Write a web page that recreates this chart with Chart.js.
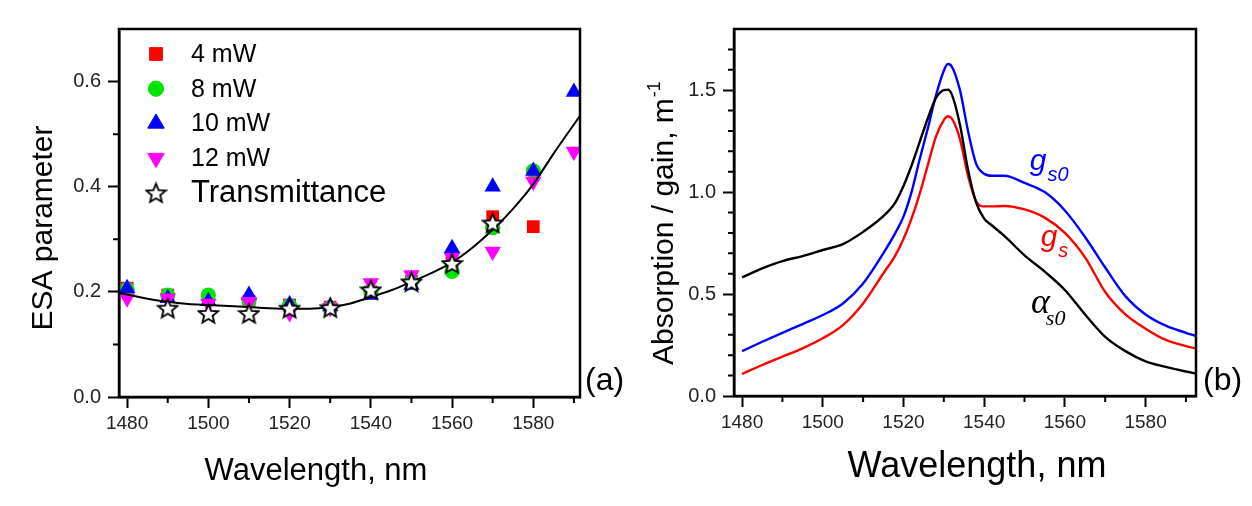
<!DOCTYPE html>
<html>
<head>
<meta charset="utf-8">
<script src="https://cdn.jsdelivr.net/npm/chart.js@4.4.1/dist/chart.umd.min.js"></script>
<style>
  body { margin: 0; background: #fff; width: 1252px; height: 506px; overflow: hidden; position: relative; }
  canvas { position: absolute; top: 0; }
  #esaChart { left: 0; }
  #absChart { left: 626px; }
</style>
</head>
<body>
<canvas id="esaChart" width="626" height="506"></canvas>
<canvas id="absChart" width="626" height="506"></canvas>
<script>
// ---- Panel (a): ESA parameter ----
const wavelengthsA = [1480, 1490, 1500, 1510, 1520, 1530, 1540, 1550, 1560, 1570, 1580, 1590];
const esa4mW  = [0.207, 0.194, 0.188, 0.182, 0.175, 0.171, 0.200, 0.220, 0.255, 0.343, 0.324, null];
const esa8mW  = [0.205, 0.194, 0.194, 0.183, 0.174, 0.170, 0.200, 0.220, 0.239, 0.322, 0.430, null];
const esa10mW = [0.207, 0.188, 0.182, 0.194, 0.176, 0.172, 0.194, 0.213, 0.283, 0.400, 0.430, 0.580];
const esa12mW = [0.188, 0.188, 0.178, 0.181, 0.160, 0.170, 0.217, 0.232, 0.265, 0.277, 0.410, 0.467];
const transmittance = [null, 0.169, 0.159, 0.159, 0.169, 0.170, 0.204, 0.219, 0.254, 0.331, null, null];

const fitWavelengths = [1478, 1480, 1485, 1490, 1495, 1500, 1505, 1510, 1515, 1520, 1525, 1530, 1535, 1540, 1545, 1550, 1555, 1560, 1565, 1570, 1575, 1580, 1585, 1591.5];
const fitValues      = [0.198, 0.195, 0.187, 0.181, 0.177, 0.175, 0.173, 0.171, 0.169, 0.168, 0.168, 0.171, 0.178, 0.190, 0.203, 0.219, 0.236, 0.256, 0.284, 0.318, 0.358, 0.405, 0.463, 0.535];

const xMajorTicks = [1480, 1500, 1520, 1540, 1560, 1580];
const xMinorTicks = [1490, 1510, 1530, 1550, 1570, 1590];
const yMajorTicksA = [0, 0.2, 0.4, 0.6];
const yMinorTicksA = [0.1, 0.3, 0.5];

// ---- Panel (b): absorption / gain spectra ----
const wavelengthsB = [1480, 1485, 1490, 1495, 1500, 1505, 1510, 1515, 1518, 1520, 1522, 1524, 1526, 1528, 1530, 1531, 1532, 1534, 1536, 1538, 1540, 1542, 1545, 1550, 1555, 1560, 1565, 1570, 1575, 1580, 1585, 1590, 1592.5];
const alphaS0 = [0.582, 0.626, 0.662, 0.686, 0.716, 0.745, 0.805, 0.882, 0.950, 1.030, 1.130, 1.245, 1.360, 1.460, 1.500, 1.502, 1.478, 1.330, 1.110, 0.950, 0.870, 0.835, 0.785, 0.690, 0.610, 0.520, 0.400, 0.290, 0.220, 0.170, 0.143, 0.120, 0.110];
const gS0     = [0.220, 0.266, 0.310, 0.353, 0.397, 0.454, 0.552, 0.700, 0.800, 0.880, 1.000, 1.160, 1.310, 1.470, 1.595, 1.628, 1.615, 1.500, 1.300, 1.140, 1.090, 1.080, 1.080, 1.045, 1.000, 0.910, 0.780, 0.630, 0.490, 0.400, 0.345, 0.310, 0.294];
const gS      = [0.108, 0.152, 0.193, 0.234, 0.283, 0.348, 0.454, 0.601, 0.690, 0.770, 0.870, 0.990, 1.130, 1.270, 1.353, 1.372, 1.360, 1.260, 1.080, 0.955, 0.930, 0.930, 0.932, 0.915, 0.875, 0.800, 0.680, 0.510, 0.400, 0.330, 0.275, 0.245, 0.234];

const yMajorTicksB = [0, 0.5, 1.0, 1.5];
const yMinorTicksB = [0.1, 0.2, 0.3, 0.4, 0.6, 0.7, 0.8, 0.9, 1.1, 1.2, 1.3, 1.4, 1.6, 1.7];

const SANS = '"Liberation Sans", Arial, sans-serif';
const SERIF = '"Liberation Serif", "Times New Roman", serif';
Chart.defaults.font.family = SANS;
Chart.defaults.color = '#000';

// pair x and y arrays into points, skipping missing values
function toPoints(xs, ys) {
  return xs.map((x, i) => ({ x: x, y: ys[i] })).filter(p => p.y !== null);
}

// open five-pointed star marker
function makeStar(size) {
  const c = document.createElement('canvas');
  c.width = size; c.height = size;
  const g = c.getContext('2d');
  const R = size / 2 - 1.5, r = R * 0.45, cx = size / 2, cy = size / 2 + 1;
  g.beginPath();
  for (let i = 0; i < 10; i++) {
    const ang = -Math.PI / 2 + i * Math.PI / 5;
    const rad = i % 2 ? r : R;
    g.lineTo(cx + rad * Math.cos(ang), cy + rad * Math.sin(ang));
  }
  g.closePath();
  g.fillStyle = '#fff';
  g.fill();
  g.lineWidth = 1.9;
  g.lineJoin = 'miter';
  g.strokeStyle = '#000';
  g.stroke();
  return c;
}
const starMarker = makeStar(23);

// Frame around plot area + short minor ticks
const framePlugin = {
  id: 'frame',
  afterDraw(chart, args, opts) {
    const { ctx, chartArea: a, scales } = chart;
    ctx.save();
    ctx.strokeStyle = '#000';
    ctx.lineWidth = 2;
    ctx.beginPath();
    (opts.xMinor || []).forEach(v => {
      const px = scales.x.getPixelForValue(v);
      ctx.moveTo(px, a.bottom);
      ctx.lineTo(px, a.bottom + 6);
    });
    (opts.yMinor || []).forEach(v => {
      const py = scales.y.getPixelForValue(v);
      ctx.moveTo(a.left, py);
      ctx.lineTo(a.left - 6, py);
    });
    ctx.stroke();
    ctx.lineWidth = 2.5;
    ctx.strokeRect(a.left, a.top, a.right - a.left, a.bottom - a.top);
    ctx.restore();
  }
};

// Free text: axis titles, panel letters, curve names
const textPlugin = {
  id: 'texts',
  afterDraw(chart, args, opts) {
    const ctx = chart.ctx;
    (opts.items || []).forEach(it => {
      let x = it.x, y = it.y;
      if (it.data) {
        x = chart.scales.x.getPixelForValue(it.x);
        y = chart.scales.y.getPixelForValue(it.y);
      }
      ctx.save();
      ctx.translate(x, y);
      if (it.rotate) ctx.rotate(it.rotate);
      ctx.font = it.font;
      ctx.fillStyle = it.color || '#000';
      ctx.textAlign = it.align || 'left';
      ctx.textBaseline = 'alphabetic';
      ctx.fillText(it.text, 0, 0);
      if (it.sub) {
        const w = ctx.measureText(it.text).width;
        ctx.font = it.subFont;
        ctx.textAlign = 'left';
        ctx.fillText(it.sub, w + (it.subDx || 0), it.subDy || 0);
      }
      ctx.restore();
    });
  }
};

// Legend inside panel (a)
const legendPlugin = {
  id: 'insideLegend',
  afterDraw(chart, args, opts) {
    const ctx = chart.ctx;
    let y = opts.top;
    chart.data.datasets.forEach(ds => {
      if (!ds.label) return;
      ctx.save();
      ctx.fillStyle = ds.backgroundColor;
      ctx.strokeStyle = ds.borderColor;
      ctx.lineWidth = 1;
      Chart.helpers.drawPoint(ctx, {
        pointStyle: ds.pointStyle,
        rotation: ds.pointRotation || 0,
        radius: ds.pointRadius,
        borderWidth: 1
      }, opts.markerX, y);
      ctx.fillStyle = '#000';
      ctx.font = (ds.legendFontSize || 25) + 'px ' + SANS;
      ctx.textAlign = 'left';
      ctx.textBaseline = 'middle';
      ctx.fillText(ds.label, opts.textX, y + 1);
      ctx.restore();
      y += opts.step;
    });
  }
};

function xScale(min, max, fontSize, height) {
  return {
    type: 'linear', min: min, max: max,
    afterBuildTicks: s => { s.ticks = xMajorTicks.map(v => ({ value: v })); },
    afterFit: s => { s.height = height; },
    grid: { drawOnChartArea: false, drawTicks: true, tickLength: 11, tickWidth: 2, tickColor: '#000' },
    border: { display: true, width: 2.5, color: '#000' },
    ticks: { color: '#222', padding: 4, maxRotation: 0, autoSkip: false,
             font: { size: fontSize }, callback: v => String(v) }
  };
}

function yScale(min, max, majors, width, decimals) {
  return {
    type: 'linear', min: min, max: max,
    afterBuildTicks: s => { s.ticks = majors.map(v => ({ value: v })); },
    afterFit: s => { s.width = width; },
    grid: { drawOnChartArea: false, drawTicks: true, tickLength: 11, tickWidth: 2, tickColor: '#000' },
    border: { display: true, width: 2.5, color: '#000' },
    ticks: { color: '#222', padding: 7, font: { size: 20 }, callback: v => v.toFixed(decimals) }
  };
}

// ---- Chart (a) ----
new Chart(document.getElementById('esaChart'), {
  type: 'scatter',
  data: {
    datasets: [
      { label: '4 mW', data: toPoints(wavelengthsA, esa4mW), pointStyle: 'rect', pointRadius: 9,
        backgroundColor: '#ff0000', borderColor: '#ff0000', borderWidth: 0, order: 5 },
      { label: '8 mW', data: toPoints(wavelengthsA, esa8mW), pointStyle: 'circle', pointRadius: 7.6,
        backgroundColor: '#00e600', borderColor: '#00e600', borderWidth: 0, order: 4 },
      { label: '10 mW', data: toPoints(wavelengthsA, esa10mW), pointStyle: 'triangle', pointRadius: 9.5,
        backgroundColor: '#0000ff', borderColor: '#0000ff', borderWidth: 0, order: 3 },
      { label: '12 mW', data: toPoints(wavelengthsA, esa12mW), pointStyle: 'triangle', pointRotation: 180, pointRadius: 9.5,
        backgroundColor: '#ff00ff', borderColor: '#ff00ff', borderWidth: 0, order: 2 },
      { label: 'Transmittance', data: toPoints(wavelengthsA, transmittance), pointStyle: starMarker, pointRadius: 10,
        backgroundColor: '#fff', borderColor: '#000', borderWidth: 0, order: 0, legendFontSize: 31 },
      { data: toPoints(fitWavelengths, fitValues), showLine: true, pointRadius: 0, borderColor: '#000',
        borderWidth: 2, cubicInterpolationMode: 'monotone', order: 1 }
    ]
  },
  options: {
    responsive: false,
    animation: false,
    events: [],
    layout: { padding: { left: 0, top: 29, right: 46, bottom: 0 } },
    scales: {
      x: xScale(1478, 1591.5, 19, 109),
      y: yScale(0, 0.7, yMajorTicksA, 119, 1)
    },
    plugins: {
      legend: { display: false },
      tooltip: { enabled: false },
      frame: { xMinor: xMinorTicks, yMinor: yMinorTicksA },
      insideLegend: { markerX: 156, textX: 191, top: 54, step: 34.7 },
      texts: {
        items: [
          { text: 'ESA parameter', x: 52, y: 228, rotate: -Math.PI / 2, align: 'center', font: '30px ' + SANS },
          { text: 'Wavelength, nm', x: 316, y: 480, align: 'center', font: '31px ' + SANS },
          { text: '(a)', x: 585, y: 390, font: '32px ' + SANS }
        ]
      }
    }
  },
  plugins: [framePlugin, legendPlugin, textPlugin]
});

// ---- Chart (b) ----
new Chart(document.getElementById('absChart'), {
  type: 'scatter',
  data: {
    datasets: [
      { data: toPoints(wavelengthsB, alphaS0), showLine: true, pointRadius: 0, borderColor: '#000',
        borderWidth: 2.4, cubicInterpolationMode: 'monotone' },
      { data: toPoints(wavelengthsB, gS), showLine: true, pointRadius: 0, borderColor: '#ff0000',
        borderWidth: 2.4, cubicInterpolationMode: 'monotone' },
      { data: toPoints(wavelengthsB, gS0), showLine: true, pointRadius: 0, borderColor: '#0000ff',
        borderWidth: 2.4, cubicInterpolationMode: 'monotone' }
    ]
  },
  options: {
    responsive: false,
    animation: false,
    events: [],
    layout: { padding: { left: 0, top: 29, right: 56, bottom: 0 } },
    scales: {
      x: xScale(1478, 1592.5, 19, 110),
      y: yScale(0, 1.8, yMajorTicksB, 108, 1)
    },
    plugins: {
      legend: { display: false },
      tooltip: { enabled: false },
      frame: { xMinor: xMinorTicks, yMinor: yMinorTicksB },
      texts: {
        items: [
          { text: 'Absorption / gain, m', x: 47, y: 365, rotate: -Math.PI / 2, font: '30px ' + SANS,
            sub: '-1', subFont: '18px ' + SANS, subDx: 1, subDy: -13 },
          { text: 'Wavelength, nm', x: 351, y: 477, align: 'center', font: '36px ' + SANS },
          { text: '(b)', x: 577, y: 390, font: '32px ' + SANS },
          { text: 'g', x: 1551.3, y: 1.108, data: true, color: '#0000ff', font: 'italic 30px ' + SANS,
            sub: 's0', subFont: 'italic 20px ' + SANS, subDx: 1, subDy: 11 },
          { text: 'g', x: 1554.0, y: 0.737, data: true, color: '#ff0000', font: 'italic 30px ' + SANS,
            sub: 's', subFont: 'italic 20px ' + SANS, subDx: 1, subDy: 11 },
          { text: '\u03B1', x: 1551.6, y: 0.407, data: true, color: '#000', font: 'italic 36px ' + SERIF,
            sub: 's0', subFont: 'italic 22px ' + SERIF, subDx: -4, subDy: 12 }
        ]
      }
    }
  },
  plugins: [framePlugin, textPlugin]
});
</script>
</body>
</html>
